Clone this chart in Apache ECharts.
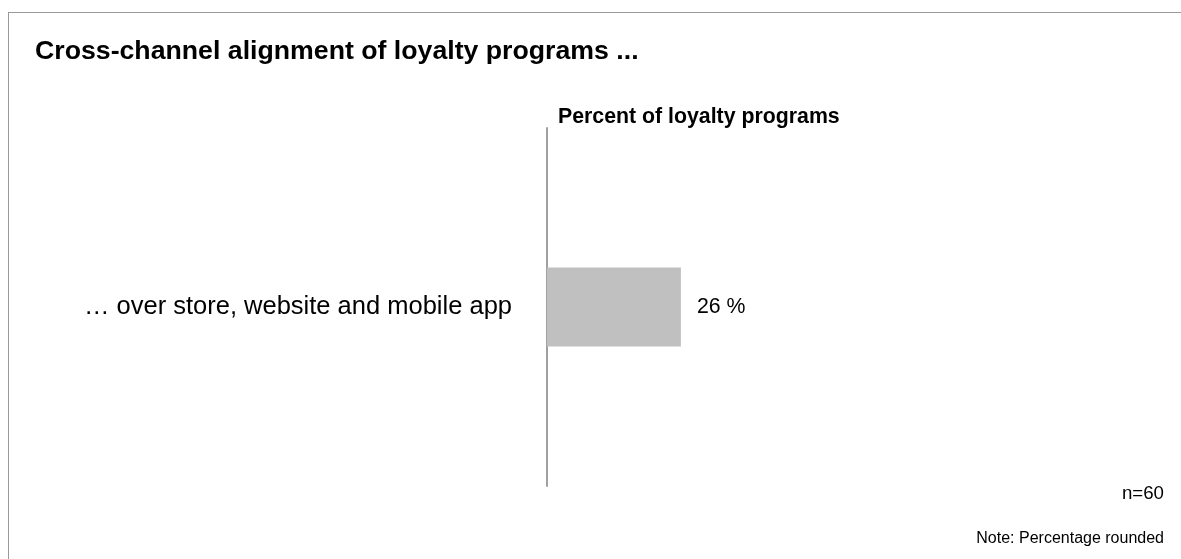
<!DOCTYPE html>
<html><head><meta charset="utf-8">
<script src="https://cdn.jsdelivr.net/npm/echarts@6/dist/echarts.min.js"></script>
<style>
html,body{margin:0;padding:0;background:#fff;overflow:hidden;}
#frame{position:absolute;left:8px;top:12px;width:1200px;height:600px;border:1px solid #999;box-sizing:border-box;}
#c{position:absolute;left:0;top:0;width:1181px;height:559px;}
</style></head>
<body>
<div id="frame"></div>
<div id="c"></div>
<script>
const categories = ['… over store, website and mobile app'];
const values = [26];
const titleText = 'Cross-channel alignment of loyalty programs ...';
const axisTitle = 'Percent of loyalty programs';
const sampleNote = 'n=60';
const footNote = 'Note: Percentage rounded';

const chart = echarts.init(document.getElementById('c'));
const F = 'Liberation Sans, Arial, sans-serif';
chart.setOption({
  animation: false,
  textStyle: {fontFamily: F},
  title: [
    {text: titleText, left: 35, top: 38, padding: 0, textStyle: {fontFamily: F, fontSize: 26.7, fontWeight: 'bold', color: '#000'}},
    {text: axisTitle, left: 558, top: 107, padding: 0, textStyle: {fontFamily: F, fontSize: 21.3, fontWeight: 'bold', color: '#000'}},
    {text: sampleNote, right: 17, top: 484, padding: 0, textStyle: {fontFamily: F, fontSize: 18.7, fontWeight: 'normal', color: '#000'}},
    {text: footNote, right: 17, top: 531, padding: 0, textStyle: {fontFamily: F, fontSize: 16, fontWeight: 'normal', color: '#000'}}
  ],
  grid: {left: 547, right: 119, top: 128, bottom: 73, containLabel: false},
  xAxis: {type: 'value', min: 0, max: 100, show: false},
  yAxis: {
    type: 'category', data: categories, inverse: true,
    axisLine: {show: true, lineStyle: {color: '#a0a0a0', width: 2}},
    axisTick: {show: false},
    axisLabel: {fontFamily: F, fontSize: 25.5, color: '#000', margin: 35}
  },
  series: [{
    type: 'bar', data: values, barWidth: 79,
    itemStyle: {color: '#c0c0c0'},
    label: {show: true, position: 'right', distance: 16, formatter: '{c} %', fontFamily: F, fontSize: 21.3, color: '#000'}
  }]
});
</script>
</body></html>
